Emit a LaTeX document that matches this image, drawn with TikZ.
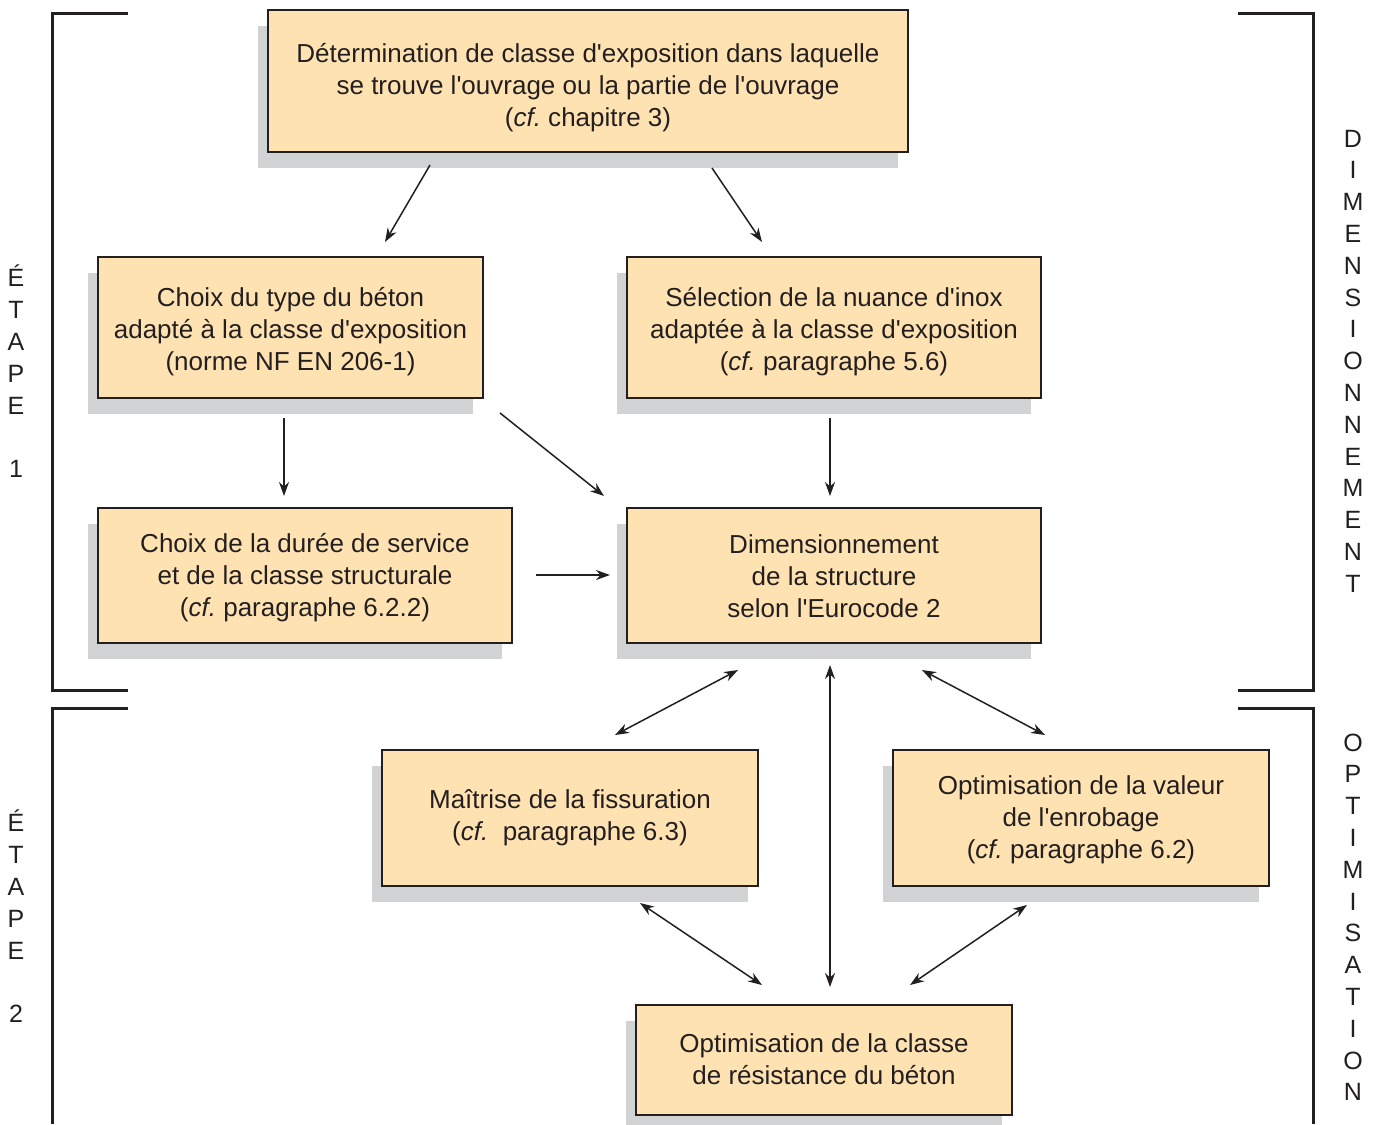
\documentclass[tikz,border=0pt]{standalone}
\usepackage{fontspec}
\setmainfont{Liberation Sans}[Ligatures=TeXOff]
\usetikzlibrary{shadows,arrows.meta}
\definecolor{boxfill}{RGB}{255,226,178}
\definecolor{shade}{RGB}{209,210,212}
\definecolor{ink}{RGB}{35,31,32}
\frenchspacing
\tikzset{
  box/.style={draw=ink, line width=1.5pt, fill=boxfill, inner sep=0pt,
    drop shadow={shadow xshift=-10pt, shadow yshift=-16pt, fill=shade, opacity=1}},
  txt/.style={text=ink, align=center, inner sep=0pt, font=\fontsize{26}{32}\selectfont},
  arr/.style={draw=ink, line width=1.5pt, -{Stealth[length=14pt,width=10pt]}},
  darr/.style={draw=ink, line width=1.5pt, {Stealth[length=14pt,width=10pt]}-{Stealth[length=14pt,width=10pt]}},
  bracket/.style={draw=ink, line width=3pt, line join=miter},
  side/.style={text=ink, inner sep=0pt, anchor=base, font=\fontsize{25}{32}\selectfont}
}
\begin{document}
\begin{tikzpicture}[x=1pt,y=-1pt]
\useasboundingbox (0,0) rectangle (1380,1124);
% brackets
\draw[bracket] (128,14) -- (52,14) -- (52,690) -- (128,690);
\draw[bracket] (128,708) -- (52,708) -- (52,1124);
\draw[bracket] (1238,14) -- (1313,14) -- (1313,690) -- (1238,690);
\draw[bracket] (1238,708) -- (1313,708) -- (1313,1124);
% boxes
\node[box, minimum width=640pt, minimum height=142pt] (T) at (588,81) {};
\node[txt] (Tt) at ([yshift=-7pt]T.center)
  {Détermination de classe d'exposition dans laquelle\\se trouve l'ouvrage ou la partie de l'ouvrage\\(\textit{cf.} chapitre 3)};
\node[box, minimum width=385pt, minimum height=141pt] (A) at (290.5,327.5) {};
\node[txt] (At) at ([yshift=-4pt]A.center)
  {Choix du type du béton\\adapté à la classe d'exposition\\(norme NF EN 206-1)};
\node[box, minimum width=414pt, minimum height=141pt] (B) at (834,327.5) {};
\node[txt] (Bt) at ([yshift=-4pt]B.center)
  {Sélection de la nuance d'inox\\adaptée à la classe d'exposition\\(\textit{cf.} paragraphe 5.6)};
\node[box, minimum width=414pt, minimum height=135pt] (C) at (305,575.5) {};
\node[txt] (Ct) at ([yshift=-2.5pt]C.center)
  {Choix de la durée de service\\et de la classe structurale\\(\textit{cf.} paragraphe 6.2.2)};
\node[box, minimum width=414pt, minimum height=135pt] (D) at (834,575.5) {};
\node[txt] (Dt) at ([yshift=-1pt]D.center)
  {Dimensionnement\\de la structure\\selon l'Eurocode 2};
\node[box, minimum width=376pt, minimum height=136pt] (E) at (570,818) {};
\node[txt] (Et) at (E.center)
  {Maîtrise de la fissuration\\(\textit{cf.}~ paragraphe 6.3)};
\node[box, minimum width=376pt, minimum height=136pt] (F) at (1081,818) {};
\node[txt] (Ft) at ([yshift=-2pt]F.center)
  {Optimisation de la valeur\\de l'enrobage\\(\textit{cf.} paragraphe 6.2)};
\node[box, minimum width=376pt, minimum height=110pt] (G) at (824,1060) {};
\node[txt] (Gt) at ([yshift=1pt]G.center)
  {Optimisation de la classe\\de résistance du béton};
% arrow end points
\coordinate (tA1) at (430,165); \coordinate (tA2) at (385,242);
\coordinate (tB1) at (712,168); \coordinate (tB2) at (762,242);
\coordinate (aC1) at (284,418); \coordinate (aC2) at (284,496);
\coordinate (aD1) at (500,413); \coordinate (aD2) at (604,496);
\coordinate (bD1) at (830,418); \coordinate (bD2) at (830,496);
\coordinate (cD1) at (536,575); \coordinate (cD2) at (610,575);
\coordinate (dE1) at (738,670); \coordinate (dE2) at (615,735);
\coordinate (dG1) at (830,665); \coordinate (dG2) at (830,987);
\coordinate (dF1) at (922,670); \coordinate (dF2) at (1045,735);
\coordinate (eG1) at (640,903); \coordinate (eG2) at (762,985);
\coordinate (fG1) at (1027,905); \coordinate (fG2) at (910,985);
\draw[arr] (tA1) -- (tA2);
\draw[arr] (tB1) -- (tB2);
\draw[arr] (aC1) -- (aC2);
\draw[arr] (aD1) -- (aD2);
\draw[arr] (bD1) -- (bD2);
\draw[arr] (cD1) -- (cD2);
\draw[darr] (dE1) -- (dE2);
\draw[darr] (dG1) -- (dG2);
\draw[darr] (dF1) -- (dF2);
\draw[darr] (eG1) -- (eG2);
\draw[darr] (fG1) -- (fG2);
% side labels
\foreach \l [count=\i] in {É,T,A,P,E}
  \node[side] (ea\i) at (16,{286+32*(\i-1)}) {\l};
\node[side] (ea6) at (16,477) {1};
\foreach \l [count=\i] in {É,T,A,P,E}
  \node[side] (eb\i) at (16,{831+32*(\i-1)}) {\l};
\node[side] (eb6) at (16,1022) {2};
\foreach \l [count=\i] in {D,I,M,E,N,S,I,O,N,N,E,M,E,N,T}
  \node[side] (dm\i) at (1353,{147+31.8*(\i-1)}) {\l};
\foreach \l [count=\i] in {O,P,T,I,M,I,S,A,T,I,O,N}
  \node[side] (op\i) at (1353,{751+31.8*(\i-1)}) {\l};
\end{tikzpicture}
\end{document}
